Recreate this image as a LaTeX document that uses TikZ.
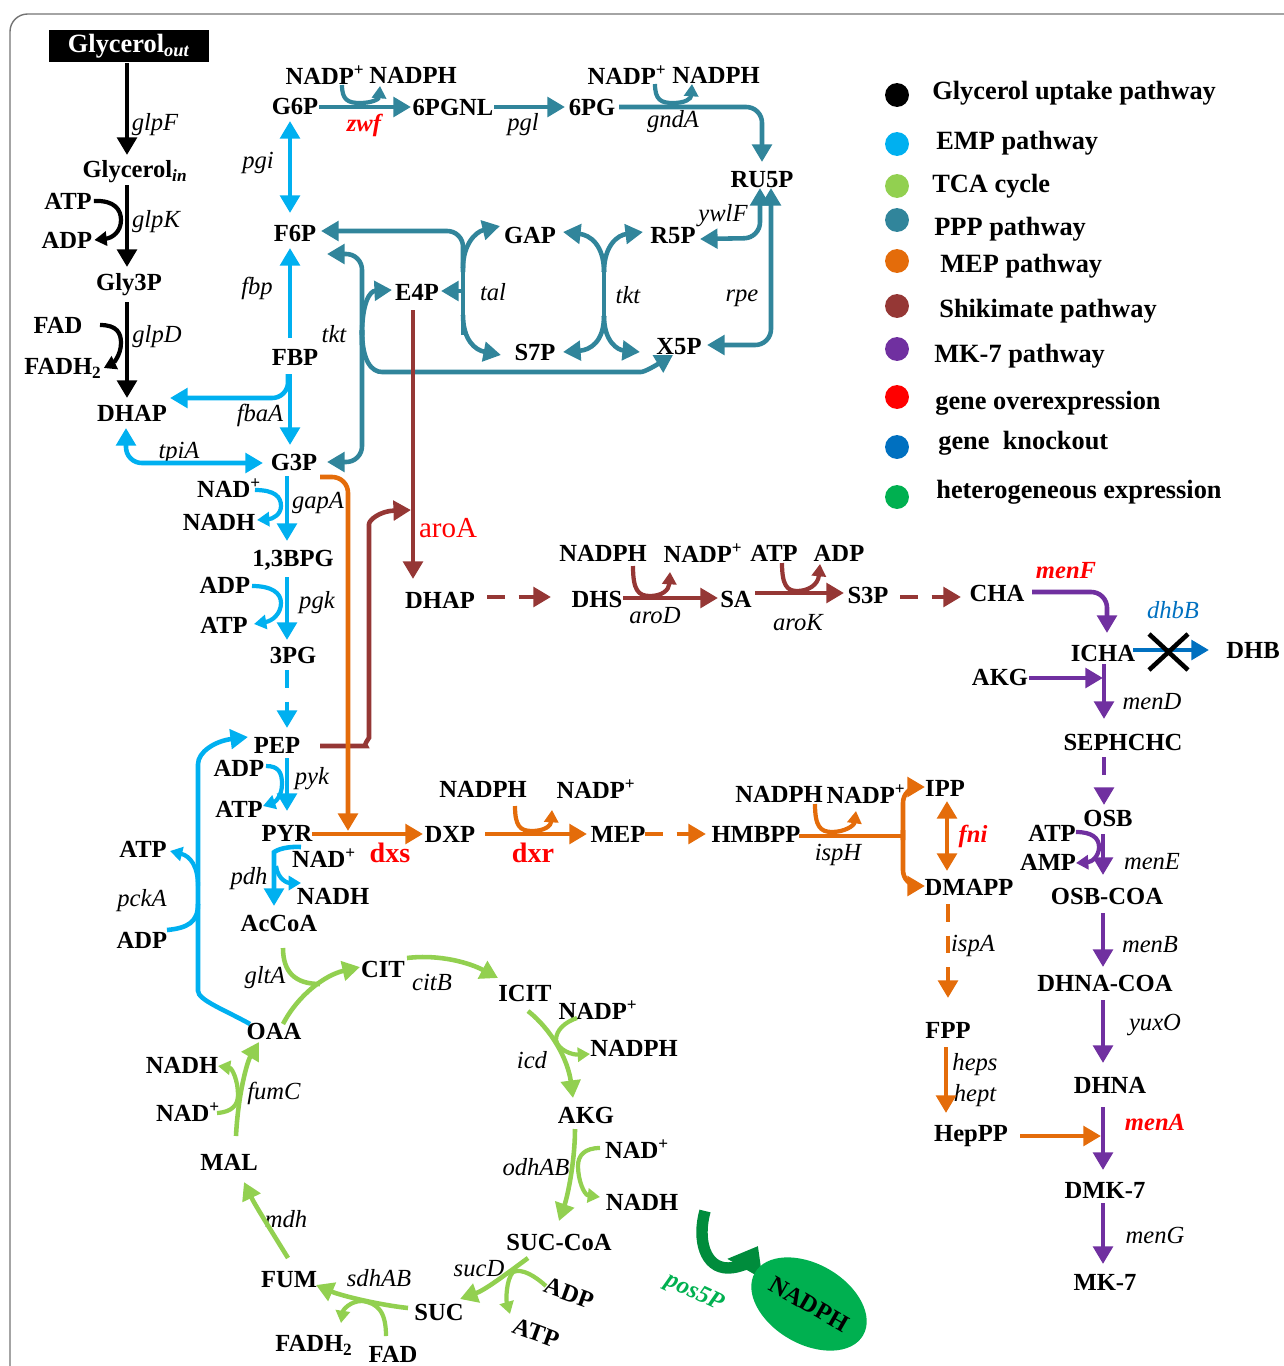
\documentclass[tikz,border=0pt]{standalone}
\usepackage{fontspec}
\setmainfont{Liberation Serif}
\usetikzlibrary{arrows.meta,shapes.geometric}
\definecolor{cemp}{RGB}{0,176,240}
\definecolor{ctca}{RGB}{146,208,80}
\definecolor{cppp}{RGB}{49,133,155}
\definecolor{cmep}{RGB}{228,108,10}
\definecolor{cshk}{RGB}{149,55,53}
\definecolor{cmk}{RGB}{112,48,160}
\definecolor{cko}{RGB}{0,112,192}
\definecolor{chet}{RGB}{0,176,80}
\definecolor{cpos}{RGB}{0,140,60}
\definecolor{cred}{RGB}{255,0,0}
\begin{document}
\begin{tikzpicture}[x=0.02cm,y=-0.02cm,
  met/.style={font=\fontsize{14}{16}\selectfont\bfseries,inner sep=1pt},
  leg/.style={font=\fontsize{15}{17}\selectfont\bfseries,inner sep=0pt,anchor=west},
  gene/.style={font=\fontsize{14}{16}\selectfont\itshape,inner sep=0pt},
  rgene/.style={font=\fontsize{14}{16}\selectfont\bfseries\itshape,text=cred,inner sep=0pt},
  pw/.style={line width=2.6pt,-{Triangle[length=10pt,width=11pt]},rounded corners=9pt},
  pw2/.style={line width=2.6pt,{Triangle[length=10pt,width=11pt]}-{Triangle[length=10pt,width=11pt]},rounded corners=9pt},
  hk/.style={line width=2.4pt,-{Triangle[length=7pt,width=8pt]}},
  ln/.style={line width=2.6pt,rounded corners=9pt},
  dsh/.style={dash pattern=on 10pt off 8pt},
]
\useasboundingbox (0,0) rectangle (1284,1366);
\begin{scope}
\clip (0,0) rectangle (1284,1366);
\draw[black!55,line width=0.8pt,rounded corners=10pt] (10,14) rectangle (1320,1400);
\end{scope}

% ---------------- legend ----------------
\foreach \y/\c in {95/black,144/cemp,186/ctca,220/cppp,261/cmep,306/cshk,349/cmk,397/cred,447/cko,497/chet}
  \fill[\c] (897,\y) circle[radius=6.8pt];
\node[leg] (L1) at (932,93) {Glycerol uptake pathway};
\node[leg] (L2) at (936,143) {EMP pathway};
\node[leg] (L3) at (932,186) {TCA cycle};
\node[leg] (L4) at (934,229) {PPP pathway};
\node[leg] (L5) at (940,266) {MEP pathway};
\node[leg] (L6) at (939,311) {Shikimate pathway};
\node[leg] (L7) at (934,356) {MK-7 pathway};
\node[leg] (L8) at (935,403) {gene overexpression};
\node[leg] (L9) at (938,443) {gene\ \ knockout};
\node[leg] (L10) at (936,492) {heterogeneous expression};

% ---------------- glycerol uptake ----------------
\node[fill=black,text=white,font=\fontsize{15}{17}\selectfont\bfseries,minimum width=3.22cm,minimum height=0.66cm,inner sep=0pt] (Gout) at (129,46) {Glycerol\textsubscript{\textit{out}}};
\node[met] (Gin) at (135,172) {Glycerol\textsubscript{\textit{in}}};
\node[met] (Gly3P) at (129,285) {Gly3P};
\node[met] (DHAP1) at (132,413) {DHAP};
\node[met] (ATP1) at (68,201) {ATP};
\node[met] (ADP1) at (67,240) {ADP};
\node[met] (FAD1) at (58,325) {FAD};
\node[met] (FADH1) at (63,368) {FADH\textsubscript{2}};
\node[gene] (glpF) at (155,125) {glpF};
\node[gene] (glpK) at (156,222) {glpK};
\node[gene] (glpD) at (157,337) {glpD};
\coordinate (xB) at (127,0);
\draw[pw,black] (xB |- Gout.south) -- (127,155);
\draw[pw,black] (127,185) -- (127,267);
\draw[pw,black] (127,302) -- (127,398);
\draw[hk,black] (ATP1.east) .. controls (115,200) and (121,210) .. (121,220) .. controls (121,232) and (112,238) .. (ADP1.east);
\draw[hk,black] (100,325) .. controls (117,325) and (121,333) .. (121,343) .. controls (121,356) and (112,364) .. (FADH1.east);

% ---------------- EMP ----------------
\node[met] (G6P) at (295,106) {G6P};
\node[met] (F6P) at (295,233) {F6P};
\node[met] (FBP) at (295,357) {FBP};
\node[met] (G3P) at (294,462) {G3P};
\node[met] (BPG) at (293,560) {1,3BPG};
\node[met] (PG3) at (293,655) {3PG};
\node[met] (PEP) at (277,745) {PEP};
\node[met] (PYR) at (287,833) {PYR};
\node[met] (AcCoA) at (279,923) {AcCoA};
\node[met] (NADp1) at (229,488) {NAD\textsuperscript{+}};
\node[met] (NADH1) at (219,522) {NADH};
\node[met] (ADP2) at (225,585) {ADP};
\node[met] (ATP2) at (224,625) {ATP};
\node[met] (ADP3) at (239,768) {ADP};
\node[met] (ATP3) at (239,809) {ATP};
\node[met] (ATP4) at (143,849) {ATP};
\node[met] (ADP4) at (142,940) {ADP};
\node[met] (NADp2) at (324,858) {NAD\textsuperscript{+}};
\node[met] (NADH2) at (333,896) {NADH};
\node[gene] (pgi) at (258,163) {pgi};
\node[gene] (fbp) at (257,288) {fbp};
\node[gene] (fbaA) at (260,415) {fbaA};
\node[gene] (tpiA) at (179,453) {tpiA};
\node[gene] (gapA) at (318,503) {gapA};
\node[gene] (pgk) at (317,603) {pgk};
\node[gene] (pyk) at (312,779) {pyk};
\node[gene] (pdh) at (249,879) {pdh};
\node[gene] (pckA) at (142,901) {pckA};

\draw[pw2,cemp] (290,121) -- (290,213);
\draw[pw,cemp] (290,338) -- (290,248);
\draw[pw,cemp] (290,374) -- (290,445);
\draw[pw,cemp] (288,374) -- (288,398) -- (170,398);
\draw[pw2,cemp] (126,428) -- (126,463) -- (263,463);
\draw[pw,cemp] (287,476) -- (287,541);
\draw[hk,cemp] (255,490) .. controls (275,490) and (281,497) .. (281,506) .. controls (281,515) and (272,519) .. (257,520);
\draw[pw,cemp] (287,577) -- (287,640);
\draw[hk,cemp] (252,586) .. controls (272,586) and (281,593) .. (281,603) .. controls (281,614) and (272,621) .. (254,624);
\draw[pw,cemp,dsh] (287,670) -- (287,728);
\draw[pw,cemp] (287,758) -- (287,811);
\draw[hk,cemp] (266,766) .. controls (279,766) and (282,773) .. (282,784) .. controls (282,796) and (275,802) .. (263,806);
\draw[pw,cemp] (301,847) .. controls (282,846) and (274,852) .. (274,868) -- (274,906);
\draw[hk,cemp] (276,866) .. controls (278,880) and (288,883) .. (301,883);
\draw[pw,cemp] (250,1024) .. controls (225,1010) and (198,1000) .. (198,975) -- (198,780) .. controls (198,752) and (215,741) .. (248,737);
\draw[hk,cemp] (198,886) .. controls (198,866) and (190,856) .. (170,851);
\draw[line width=2.6pt,cemp] (167,930) .. controls (188,928) and (198,922) .. (198,904);

% ---------------- PPP ----------------
\node[met] (PGNL) at (453,107) {6PGNL};
\node[met] (PG6) at (592,107) {6PG};
\node[met] (RU5P) at (762,180) {RU5P};
\node[met] (GAP) at (530,235) {GAP};
\node[met] (R5P) at (673,236) {R5P};
\node[met] (E4P) at (417,292) {E4P};
\node[met] (S7P) at (535,352) {S7P};
\node[met] (X5P) at (679,347) {X5P};
\node[met] (NADPa) at (325,75) {NADP\textsuperscript{+}};
\node[met] (NADPHa) at (413,75) {NADPH};
\node[met] (NADPb) at (627,75) {NADP\textsuperscript{+}};
\node[met] (NADPHb) at (716,75) {NADPH};
\node[rgene] (zwf) at (364,125) {zwf};
\node[gene] (pgl) at (523,125) {pgl};
\node[gene] (gndA) at (673,122) {gndA};
\node[gene] (ywlF) at (723,216) {ywlF};
\node[gene] (rpe) at (742,298) {rpe};
\node[gene] (tal) at (493,292) {tal};
\node[gene] (tkt1) at (628,295) {tkt};
\node[gene] (tkt2) at (334,334) {tkt};

\draw[pw,cppp] (319,107) -- (411,107);
\draw[hk,cppp] (342,85) .. controls (342,100) and (348,103) .. (360,103) .. controls (372,103) and (379,99) .. (380,86);
\draw[pw,cppp] (494,107) -- (565,107);
\draw[pw,cppp] (619,107) -- (762,107) -- (762,162);
\draw[hk,cppp] (655,84) .. controls (655,100) and (661,103) .. (673,103) .. controls (685,103) and (691,99) .. (692,84);
\draw[pw2,cppp] (760,188) -- (760,238) -- (700,239);
\draw[pw2,cppp] (771,188) -- (771,345) -- (707,345);
% tal
\draw[ln,cppp] (463,245) -- (463,335);
\draw[pw,cppp] (463,272) |- (321,231);
\draw[pw,cppp] (463,268) .. controls (463,245) and (475,232) .. (500,226);
\draw[pw,cppp] (463,315) .. controls (463,340) and (475,350) .. (501,355);
\draw[pw,cppp] (463,291) -- (441,291);
% tkt middle
\draw[ln,cppp] (604,262) -- (604,325);
\draw[pw,cppp] (604,272) .. controls (604,245) and (590,235) .. (563,232);
\draw[pw,cppp] (604,272) .. controls (604,245) and (618,235) .. (643,232);
\draw[pw,cppp] (604,316) .. controls (604,342) and (590,350) .. (563,352);
\draw[pw,cppp] (604,316) .. controls (604,342) and (618,350) .. (640,352);
% tkt left
\draw[pw,cppp] (362,345) |- (327,254);
\draw[pw,cppp] (362,330) |- (327,462);
\draw[pw,cppp] (362,335) .. controls (362,302) and (370,291) .. (392,290);
\draw[pw,cppp] (362,330) .. controls (362,362) and (372,372) .. (398,372) -- (625,372) .. controls (645,372) and (658,364) .. (673,355);

% ---------------- Shikimate ----------------
\node[met] (DHAP2) at (440,600) {DHAP};
\node[met] (DHS) at (597,599) {DHS};
\node[met] (SA) at (736,599) {SA};
\node[met] (S3P) at (868,595) {S3P};
\node[met] (CHA) at (997,593) {CHA};
\node[met] (NADPHc) at (603,553) {NADPH};
\node[met] (NADPc) at (703,553) {NADP\textsuperscript{+}};
\node[met] (ATP5) at (774,553) {ATP};
\node[met] (ADP5) at (839,553) {ADP};
\node[font=\fontsize{16.5}{18}\selectfont,text=cred,inner sep=0pt] (aroA) at (448,528) {aroA};
\node[gene] (aroD) at (655,616) {aroD};
\node[gene] (aroK) at (798,623) {aroK};

\draw[pw,cshk] (413,310) -- (413,579);
\draw[pw,cshk] (320,746) -- (350,746) .. controls (363,746) and (369,738) .. (369,722) -- (369,540) .. controls (369,520) and (380,511) .. (411,510);
\draw[pw,cshk,dsh] (487,597) -- (551,597);
\draw[pw,cshk] (623,598) -- (718,598);
\draw[hk,cshk] (633,566) .. controls (633,590) and (638,596) .. (650,596) .. controls (662,596) and (669,590) .. (670,572);
\draw[pw,cshk] (755,593) -- (844,593);
\draw[hk,cshk] (782,563) .. controls (782,585) and (787,591) .. (797,591) .. controls (808,591) and (818,585) .. (820,564);
\draw[pw,cshk,dsh] (900,597) -- (961,597);

% ---------------- MK-7 ----------------
\node[met] (ICHA) at (1103,653) {ICHA};
\node[met] (DHB) at (1253,650) {DHB};
\node[met] (AKG2) at (1000,677) {AKG};
\node[met] (SEPHCHC) at (1123,742) {SEPHCHC};
\node[met] (OSB) at (1108,818) {OSB};
\node[met] (ATP6) at (1052,833) {ATP};
\node[met] (AMP6) at (1048,862) {AMP};
\node[met] (OSBCOA) at (1107,896) {OSB-COA};
\node[met] (DHNACOA) at (1105,983) {DHNA-COA};
\node[met] (DHNA) at (1110,1085) {DHNA};
\node[met] (DMK7) at (1105,1190) {DMK-7};
\node[met] (MK7) at (1105,1282) {MK-7};
\node[rgene] (menF) at (1066,571) {menF};
\node[font=\fontsize{14}{16}\selectfont\itshape,text=cko,inner sep=0pt] (dhbB) at (1173,610) {dhbB};
\node[gene] (menD) at (1152,702) {menD};
\node[gene] (menE) at (1152,862) {menE};
\node[gene] (menB) at (1150,945) {menB};
\node[gene] (yuxO) at (1155,1025) {yuxO};
\node[rgene] (menA) at (1155,1122) {menA};
\node[gene] (menG) at (1155,1235) {menG};

\draw[pw,cmk] (1032,592) -- (1107,592) -- (1107,633);
\draw[pw,cko] (1133,650) -- (1209,650);
\draw[line width=2.6pt,black] (1149,634) -- (1188,670) (1149,670) -- (1188,634);
\draw[pw,cmk] (1029,678) -- (1103,678);
\draw[pw,cmk] (1104,664) -- (1104,719);
\draw[pw,cmk,dsh] (1104,757) -- (1104,805);
\draw[pw,cmk] (1103,834) -- (1103,875);
\draw[hk,cmk] (1076,832) .. controls (1092,832) and (1099,838) .. (1099,847) .. controls (1099,856) and (1092,862) .. (1076,863);
\draw[pw,cmk] (1103,913) -- (1103,967);
\draw[pw,cmk] (1103,1000) -- (1103,1063);
\draw[pw,cmk] (1103,1107) -- (1103,1170);
\draw[pw,cmk] (1103,1203) -- (1103,1264);

% ---------------- MEP ----------------
\node[met] (DXP) at (450,834) {DXP};
\node[met] (MEP) at (618,834) {MEP};
\node[met] (HMBPP) at (756,834) {HMBPP};
\node[met] (IPP) at (945,788) {IPP};
\node[met] (DMAPP) at (969,887) {DMAPP};
\node[met] (FPP) at (948,1030) {FPP};
\node[met] (HepPP) at (971,1136) {HepPP};
\node[met] (NADPHd) at (483,789) {NADPH};
\node[met] (NADPd) at (596,789) {NADP\textsuperscript{+}};
\node[met] (NADPHe) at (779,794) {NADPH};
\node[met] (NADPe) at (866,794) {NADP\textsuperscript{+}};
\node[font=\fontsize{16}{18}\selectfont\bfseries,text=cred,inner sep=0pt] (dxs) at (390,853) {dxs};
\node[font=\fontsize{16}{18}\selectfont\bfseries,text=cred,inner sep=0pt] (dxr) at (533,853) {dxr};
\node[gene] (ispH) at (838,855) {ispH};
\node[rgene] (fni) at (973,836) {fni};
\node[gene] (ispA) at (973,946) {ispA};
\node[gene] (heps) at (975,1065) {heps};
\node[gene] (hept) at (975,1096) {hept};

\draw[pw,cmep] (320,477) -- (348,477) -- (348,831);
\draw[pw,cmep] (312,834) -- (423,834);
\draw[pw,cmep] (485,834) -- (587,834);
\draw[hk,cmep] (515,806) .. controls (515,826) and (520,831) .. (532,831) .. controls (544,831) and (551,826) .. (552,810);
\draw[pw,cmep,dsh] (645,834) -- (706,834);
\draw[ln,cmep] (799,836) -- (903,836);
\draw[pw,cmep] (903,840) |- (925,787);
\draw[pw,cmep] (903,830) |- (925,886);
\draw[hk,cmep] (815,804) .. controls (815,826) and (820,832) .. (832,832) .. controls (844,832) and (854,826) .. (856,811);
\draw[pw2,cmep] (947,801) -- (947,871);
\draw[pw,cmep,dsh] (948,904) -- (948,998);
\draw[pw,cmep] (946,1047) -- (946,1113);
\draw[pw,cmep] (1020,1136) -- (1101,1136);

% ---------------- TCA ----------------
\node[met] (OAA) at (274,1031) {OAA};
\node[met] (CIT) at (383,969) {CIT};
\node[met] (ICIT) at (525,993) {ICIT};
\node[met] (AKG) at (586,1115) {AKG};
\node[met] (SUCCoA) at (559,1242) {SUC-CoA};
\node[met] (SUC) at (439,1312) {SUC};
\node[met] (FUM) at (289,1280) {FUM};
\node[met] (MAL) at (229,1162) {MAL};
\node[met] (NADPf) at (598,1010) {NADP\textsuperscript{+}};
\node[met] (NADPHf) at (634,1048) {NADPH};
\node[met] (NADp3) at (637,1149) {NAD\textsuperscript{+}};
\node[met] (NADH3) at (642,1202) {NADH};
\node[met,rotate=-20] (ADP7) at (569,1293) {ADP};
\node[met,rotate=-20] (ATP7) at (536,1333) {ATP};
\node[met] (FADH2b) at (314,1345) {FADH\textsubscript{2}};
\node[met] (FAD2) at (393,1354) {FAD};
\node[met] (NADH4) at (182,1065) {NADH};
\node[met] (NADp4) at (188,1112) {NAD\textsuperscript{+}};
\node[gene] (gltA) at (265,978) {gltA};
\node[gene] (citB) at (432,982) {citB};
\node[gene] (icd) at (532,1060) {icd};
\node[gene] (odhAB) at (536,1167) {odhAB};
\node[gene] (sucD) at (479,1269) {sucD};
\node[gene] (sdhAB) at (379,1278) {sdhAB};
\node[gene] (mdh) at (286,1219) {mdh};
\node[gene] (fumC) at (274,1093) {fumC};

\draw[pw,ctca] (283,1024) .. controls (298,995) and (325,975) .. (360,967);
\draw[line width=2.6pt,ctca] (283,948) .. controls (283,972) and (295,984) .. (320,984);
\draw[pw,ctca] (407,958) .. controls (440,954) and (470,963) .. (498,978);
\draw[pw,ctca] (528,1011) .. controls (552,1030) and (568,1060) .. (573,1098);
\draw[hk,ctca] (577,1018) .. controls (565,1022) and (556,1030) .. (556,1040) .. controls (558,1050) and (572,1055) .. (590,1054);
\draw[pw,ctca] (575,1129) .. controls (575,1160) and (568,1195) .. (559,1221);
\draw[hk,ctca] (600,1148) .. controls (585,1148) and (578,1155) .. (578,1166) .. controls (578,1180) and (584,1195) .. (600,1197);
\draw[pw,ctca] (528,1258) .. controls (505,1275) and (485,1290) .. (460,1299);
\draw[hk,ctca] (546,1286) .. controls (535,1276) and (522,1268) .. (513,1272) .. controls (506,1280) and (506,1300) .. (510,1314);
\draw[pw,ctca] (408,1308) .. controls (380,1305) and (342,1296) .. (316,1285);
\draw[hk,ctca] (386,1336) .. controls (386,1312) and (378,1303) .. (362,1301) .. controls (350,1301) and (343,1310) .. (341,1323);
\draw[pw,ctca] (288,1258) .. controls (272,1232) and (255,1205) .. (244,1182);
\draw[pw,ctca] (236,1136) .. controls (238,1095) and (247,1062) .. (259,1042);
\draw[hk,ctca] (217,1113) .. controls (232,1112) and (238,1105) .. (238,1095) .. controls (238,1080) and (232,1068) .. (218,1066);

% ---------------- pos5P ----------------
\draw[cpos,line width=6.5pt,-{Triangle[length=15pt,width=22pt]}] (705,1211) .. controls (697,1240) and (705,1268) .. (728,1268) .. controls (741,1268) and (750,1260) .. (758,1246);
\node[font=\fontsize{14}{16}\selectfont\bfseries\itshape,text=chet,rotate=-25,inner sep=0pt] (pos5P) at (694,1293) {pos5P};
\node[ellipse,fill=chet,minimum width=2.5cm,minimum height=1.6cm,rotate=-30,inner sep=0pt,font=\fontsize{14}{16}\selectfont\bfseries] (NADPHg) at (809,1304) {NADPH};
\end{tikzpicture}
\end{document}
